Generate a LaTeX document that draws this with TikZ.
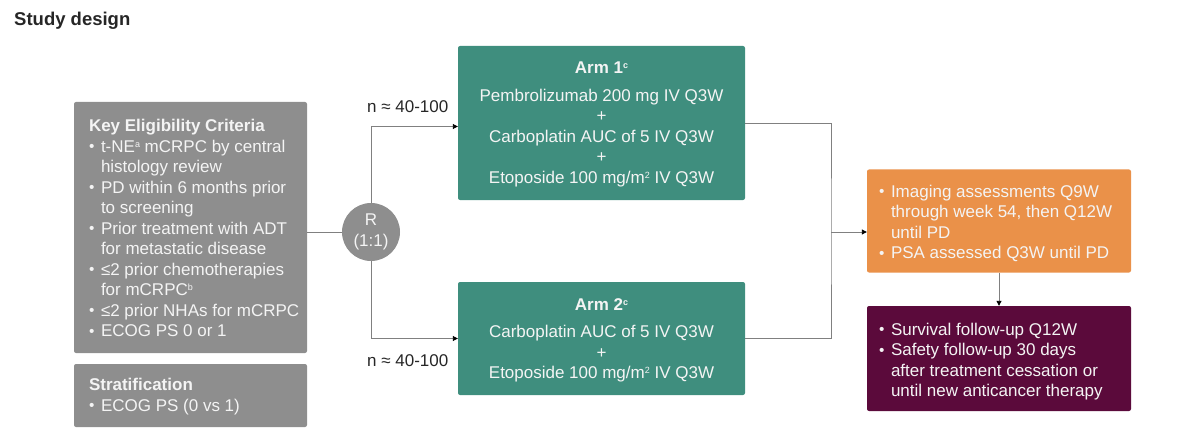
\documentclass[tikz,border=0pt]{standalone}
\usepackage{fontspec}
\setmainfont{Liberation Sans}
\usetikzlibrary{arrows.meta,calc}
\definecolor{boxgray}{HTML}{8E8E8E}
\definecolor{teal1}{HTML}{3F8E7E}
\definecolor{orange1}{HTML}{EA9149}
\definecolor{plum1}{HTML}{5B0A3B}
\definecolor{linegray}{HTML}{808080}
\definecolor{boxtext}{HTML}{F4F4F4}
\newcommand{\bulm}{\makebox[12pt][l]{\raisebox{0.5pt}{\scalebox{0.9}{\textbullet}}}}
\newcommand{\hgind}{\hspace*{12pt}}
\newcommand{\sups}[1]{\raisebox{5pt}{\fontsize{9}{9}\selectfont #1}}
\begin{document}
\begin{tikzpicture}[x=1pt,y=-1pt,
  every node/.style={font=\fontsize{17}{20.5}\selectfont},
  panel/.style={rounded corners=2pt, minimum width=#1, inner sep=0pt},
  txt/.style={text=boxtext, align=left, inner sep=0pt, anchor=west},
  ctxt/.style={text=boxtext, align=center, inner sep=0pt},
  conn/.style={draw=linegray, line width=0.9pt},
  arr/.style={conn, -{Triangle[length=5pt,width=5pt,color=black]}}
]
\useasboundingbox (0,0) rectangle (1200,441);
\node[anchor=west, inner sep=0pt, font=\fontsize{18.5}{22}\selectfont\bfseries, text=black!85] (title) at (14,21) {Study design};

% eligibility
\node[panel=233, minimum height=251, fill=boxgray] (elig) at (190.5,227.5) {};
\node[txt] (eligt) at ([xshift=15,yshift=-0.5]elig.west) {\textbf{Key Eligibility Criteria}\\
\bulm t-NE\sups{a} mCRPC by central\\
\hgind histology review\\
\bulm PD within 6 months prior\\
\hgind to screening\\
\bulm Prior treatment with ADT\\
\hgind for metastatic disease\\
\bulm ≤2 prior chemotherapies\\
\hgind for mCRPC\sups{b}\\
\bulm ≤2 prior NHAs for mCRPC\\
\bulm ECOG PS 0 or 1};

% stratification
\node[panel=233, minimum height=63, fill=boxgray] (strat) at (190.5,395.5) {};
\node[txt] (stratt) at ([xshift=15,yshift=-1]strat.west) {\textbf{Stratification}\\
\bulm ECOG PS (0 vs 1)};

% randomisation
\node[circle, fill=boxgray, minimum size=58, inner sep=0pt, text=boxtext, align=center] (R) at (371,232) {R\\(1:1)};

% arms
\node[panel=287, minimum height=154, fill=teal1] (arm1) at (601.5,123) {};
\node[ctxt] (arm1t) at (601.5,124.5) {\textbf{Arm 1\sups{c}}\\[7pt]
Pembrolizumab 200 mg IV Q3W\\ +\\ Carboplatin AUC of 5 IV Q3W\\ +\\ Etoposide 100 mg/m\sups{2} IV Q3W};

\node[panel=287, minimum height=113, fill=teal1] (arm2) at (601.5,338.5) {};
\node[ctxt] (arm2t) at (601.5,340.5) {\textbf{Arm 2\sups{c}}\\[7pt]
Carboplatin AUC of 5 IV Q3W\\ +\\ Etoposide 100 mg/m\sups{2} IV Q3W};

% n labels
\node[anchor=west, inner sep=0pt, text=black!85] (n1) at (367,107) {n ≈ 40-100};
\node[anchor=west, inner sep=0pt, text=black!85] (n2) at (367,361) {n ≈ 40-100};

% outcome boxes
\node[panel=264, minimum height=103, fill=orange1] (assess) at (999,221) {};
\node[txt] (assesst) at ([xshift=12,yshift=-2.5]assess.west) {\bulm Imaging assessments Q9W\\
\hgind through week 54, then Q12W\\
\hgind until PD\\
\bulm PSA assessed Q3W until PD};

\node[panel=264, minimum height=105, fill=plum1] (follow) at (999,358.5) {};
\node[txt] (followt) at ([xshift=12,yshift=-3]follow.west) {\bulm Survival follow-up Q12W\\
\bulm Safety follow-up 30 days\\
\hgind after treatment cessation or\\
\hgind until new anticancer therapy};

% connectors
\coordinate (j) at (831,232);
\draw[conn] (R.west -| elig.east) -- (R.west);
\draw[arr] (R.north) |- ([yshift=-3.5]arm1.west);
\draw[arr] (R.south) |- (arm2.west);
\draw[conn] (arm1.east) -| (j) |- (arm2.east);
\draw[arr] (j) -- (j -| assess.west);
\draw[arr] (assess.south) -- (follow.north);
\end{tikzpicture}
\end{document}
